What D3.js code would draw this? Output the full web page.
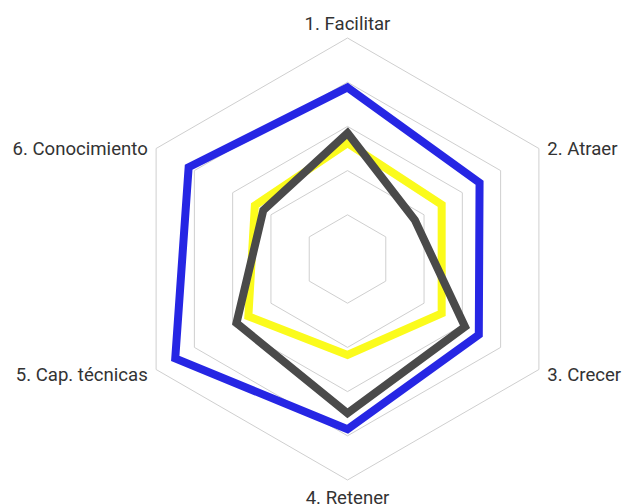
<!DOCTYPE html>
<html>
<head>
<meta charset="utf-8">
<script src="https://cdn.jsdelivr.net/npm/d3@7"></script>
<style>
  html, body { margin: 0; padding: 0; background: #fff; }
  svg { display: block; }
</style>
</head>
<body>
<svg id="chart" width="623" height="504"></svg>
<script>
// Radar axes, clockwise from the top
const axes = ["1. Facilitar", "2. Atraer", "3. Crecer", "4. Retener", "5. Cap. técnicas", "6. Conocimiento"];

// Score of each series on every axis (0–5 scale)
const serieAmarilla = [2.62, 2.46, 2.46, 2.17, 2.59, 2.42];
const serieGris     = [2.85, 1.76, 3.07, 3.49, 2.90, 2.20];
const serieAzul     = [3.88, 3.45, 3.43, 3.85, 4.50, 4.15];

// Grid rings
const levels = [1, 2, 3, 4, 5];
const maxValue = 5;

const series = [
  { name: "amarilla", values: serieAmarilla, color: "#fbfb1c" },
  { name: "gris",     values: serieGris,     color: "#4a4a4a" },
  { name: "azul",     values: serieAzul,     color: "#2626e4" }
];

const svg = d3.select("#chart");
const cx = 347.5, cy = 259, radius = 221;

const r = d3.scaleLinear().domain([0, maxValue]).range([0, radius]);
const angle = d3.scalePoint().domain(axes).range([0, 2 * Math.PI * (axes.length - 1) / axes.length]);

const g = svg.append("g").attr("transform", `translate(${cx},${cy})`);

const radial = d3.lineRadial()
  .angle((d, i) => angle(axes[i]))
  .radius(d => r(d))
  .curve(d3.curveLinearClosed);

// Hexagonal grid
g.append("g").selectAll("path")
  .data(levels)
  .join("path")
  .attr("d", lv => radial(axes.map(() => lv)))
  .attr("fill", "none")
  .attr("stroke", "#cfcfcf")
  .attr("stroke-width", 1);

// Series polygons
g.append("g").selectAll("path")
  .data(series)
  .join("path")
  .attr("d", s => radial(s.values))
  .attr("fill", "none")
  .attr("stroke", s => s.color)
  .attr("stroke-width", 8)
  .attr("stroke-linejoin", "miter");

// Axis labels, placed just outside the outer ring along each axis
const labelRadius = 226;
g.append("g").selectAll("text")
  .data(axes)
  .join("text")
  .each(function (name) {
    const a = angle(name);
    const sx = Math.sin(a), cyA = Math.cos(a);
    const t = d3.select(this);
    if (Math.abs(sx) < 1e-6) {
      t.attr("x", 0).attr("text-anchor", "middle")
        .attr("y", cyA > 0 ? -radius - 8 : radius + 8)
        .attr("dy", cyA > 0 ? "0" : "0.86em");
    } else {
      t.attr("x", labelRadius * sx + (sx > 0 ? 4 : -4))
        .attr("y", -labelRadius * cyA)
        .attr("dy", "0.5em")
        .attr("text-anchor", sx > 0 ? "start" : "end");
    }
  })
  .text(d => d)
  .attr("font-family", "Roboto, sans-serif")
  .attr("font-size", 18.6)
  .attr("fill", "#333");
</script>
</body>
</html>
